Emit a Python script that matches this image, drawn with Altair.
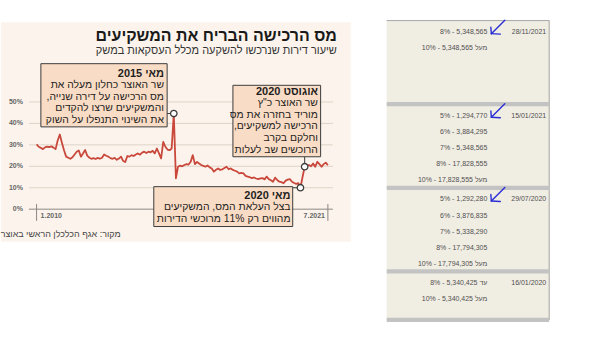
import altair as alt
import pandas as pd

# ---------------- data ----------------
# share of apartments bought for investment (%), monthly from 1.2010 to 7.2021
share_pct = [
    30.2, 29.1, 28.6, 28.0, 28.8, 29.2, 28.9, 29.3, 28.7, 28.0,
    32.0, 34.8, 31.0, 27.5, 24.5, 24.0, 23.5, 24.2, 25.5, 26.8,
    27.4, 24.5, 26.0, 27.6, 25.0, 24.0, 23.5, 23.8, 23.4, 23.9,
    23.5, 24.0, 25.5, 24.9, 24.5, 23.8, 23.5, 23.9, 23.0, 23.6,
    24.5, 22.5, 22.0, 24.8, 24.5, 25.2, 24.8, 25.5, 26.0, 25.4,
    26.4, 26.8, 26.2, 26.8, 26.5, 27.2, 26.0, 28.3, 26.0, 23.7,
    31.4, 29.1, 27.8, 27.5, 28.3, 44.6, 14.4, 19.8, 20.3, 20.0,
    20.6, 21.0, 20.8, 22.1, 25.2, 21.0, 22.0, 21.3, 20.6, 20.2,
    19.8, 20.4, 19.5, 19.0, 17.5, 18.4, 19.0, 18.3, 18.6, 19.2,
    19.8, 18.6, 19.0, 18.3, 17.9, 17.5, 16.7, 16.9, 16.7, 15.5,
    15.2, 14.9, 14.5, 14.8, 14.3, 14.0, 14.4, 14.5, 13.9, 15.2,
    14.0, 13.5, 12.8, 14.7, 13.6, 12.8, 12.6, 12.1, 13.3, 13.8,
    14.0, 12.8, 12.2, 11.8, 12.1, 10.0, 15.0, 19.8, 20.2, 20.6,
    20.0, 21.3, 19.8, 22.1, 21.0, 19.8, 21.0, 21.7, 20.5,
]
x_tick_labels = ["1.2010", "7.2021"]
y_ticks = [0, 10, 20, 30, 40, 50]
y_tick_labels = ["0%", "10%", "20%", "30%", "40%", "50%"]
highlight_idx = [65, 127, 125]          # May 2015, Aug 2020, May 2020

title_text = "מס הרכישה הבריח את המשקיעים"
subtitle_text = "שיעור דירות שנרכשו להשקעה מכלל העסקאות במשק"
source_text = "מקור: אגף הכלכלן הראשי באוצר"
ann_heads = ["מאי 2015", "אוגוסט 2020", "מאי 2020"]
ann_bodies = [
    ["שר האוצר כחלון מעלה את", "מס הרכישה על דירה שנייה,", "והמשקיעים שרצו להקדים", "את השינוי התנפלו על השוק"],
    ["שר האוצר כ\"ץ", "מוריד בחזרה את מס", "הרכישה למשקיעים,", "וחלקם בקרב", "הרוכשים שב לעלות"],
    ["בצל העלאת המס, המשקיעים", "מהווים רק 11% מרוכשי הדירות"],
]

table_dates = ["28/11/2021", "15/01/2021", "29/07/2020", "16/01/2020"]
table_rows = [
    ["8% - 5,348,565", "10% - 5,348,565 מעל"],
    ["5% - 1,294,770", "6% - 3,884,295", "7% - 5,348,565", "8% - 17,828,555", "10% - 17,828,555 מעל"],
    ["5% - 1,292,280", "6% - 3,876,835", "7% - 5,338,290", "8% - 17,794,305", "10% - 17,794,305 מעל"],
    ["8% - 5,340,425 עד", "10% - 5,340,425 מעל"],
]
section_slots = [5, 5, 5, 3]
marked_sections = [0, 1, 2]

# ---------------- layout / style ----------------
W_L, W_R, H = 386, 210, 349
X0, PPM = 35.7, 2.118          # px of first month, px per month
Y0, PPP = 209.3, 2.152         # px of 0%, px per percent
FONT = "Liberation Sans"
RED, BG_L, BOX, DARK = "#c9483b", "#fcf4ec", "#f9dcc5", "#3c3c3c"
GRID, AXIS, TXT = "#ddd3c8", "#8c8782", "#1e1e1e"
BG_R, BAR, BORDER, TBL_TXT, BLUE = "#f0ede3", "#c3c3c3", "#a8a8a8", "#505050", "#2a2fd6"

RLM, LRM = "\u200f", "\u200e"
def rtl(s):
    return RLM + s + RLM

def ltr(s):
    return LRM + s + LRM

xs = alt.Scale(domain=[-X0 / PPM, (W_L - X0) / PPM], nice=False, zero=False)
ys = alt.Scale(domain=[-(H - Y0) / PPP, Y0 / PPP], nice=False, zero=False)

def X(f="t"):
    return alt.X(f"{f}:Q", scale=xs, axis=None)

def Y(f="v"):
    return alt.Y(f"{f}:Q", scale=ys, axis=None)

one = pd.DataFrame({"k": [0]})
series = pd.DataFrame({"t": list(range(len(share_pct))), "v": share_pct})
pts = series[series["t"].isin(highlight_idx)]
ticks = pd.DataFrame({"v": y_ticks, "lab": y_tick_labels})
xt = pd.DataFrame({"t": [0, len(share_pct) - 1], "lab": x_tick_labels})

layers = []
layers.append(alt.Chart(one).mark_rect(color=BG_L).encode(
    x=alt.value(0), x2=alt.value(351), y=alt.value(21.7), y2=alt.value(242)))
layers.append(alt.Chart(ticks).transform_filter("datum.v > 0").mark_rule(color=GRID, strokeWidth=1).encode(
    y=Y(), x=alt.value(28), x2=alt.value(333)))
layers.append(alt.Chart(ticks).transform_filter("datum.v == 0").mark_rule(color=AXIS, strokeWidth=1).encode(
    y=Y(), x=alt.value(28), x2=alt.value(333)))
layers.append(alt.Chart(ticks).mark_text(align="right", baseline="middle", font=FONT, fontSize=7,
                                         fontWeight="bold", color="#666").encode(
    y=Y(), x=alt.value(22), text="lab:N"))
layers.append(alt.Chart(xt).mark_rule(color=AXIS, strokeWidth=1).encode(
    x=X(), y=alt.value(204), y2=alt.value(221)))
layers.append(alt.Chart(xt).transform_filter("datum.t == 0").mark_text(
    align="left", dx=4, baseline="middle", font=FONT, fontSize=7, fontWeight="bold", color="#666").encode(
    x=X(), y=alt.value(216.5), text="lab:N"))
layers.append(alt.Chart(xt).transform_filter("datum.t > 0").mark_text(
    align="right", dx=-3, baseline="middle", font=FONT, fontSize=7, fontWeight="bold", color="#666").encode(
    x=X(), y=alt.value(216.5), text="lab:N"))
layers.append(alt.Chart(series).mark_line(color=RED, strokeWidth=1.8, strokeJoin="round").encode(x=X(), y=Y()))

# connectors
layers.append(alt.Chart(pts).transform_filter(f"datum.t == {highlight_idx[0]}").mark_rule(color=DARK).encode(
    x=X(), x2=alt.value(166.7), y=Y()))
layers.append(alt.Chart(pts).transform_filter(f"datum.t == {highlight_idx[1]}").mark_rule(color=DARK).encode(
    x=X(), y=Y(), y2=alt.value(156.7)))
layers.append(alt.Chart(pts).transform_filter(f"datum.t == {highlight_idx[2]}").mark_rule(color=DARK).encode(
    x=X(), x2=alt.value(292.7), y=Y()))

# annotation boxes: (x1, x2, y1, y2, text right edge, heading y, body top y)
box_layout = [
    (40.0, 166.7, 63.3, 126.7, 163.5, 73.3, 79.6),
    (232.7, 320.7, 85.0, 156.7, 318.0, 91.7, 97.9),
    (153.3, 292.7, 186.7, 226.7, 290.5, 196.0, 202.3),
]
for (x1, x2, y1, y2, xr, yh, yb), head, body in zip(box_layout, ann_heads, ann_bodies):
    layers.append(alt.Chart(one).mark_rect(fill=BOX, stroke=DARK, strokeWidth=1).encode(
        x=alt.value(x1), x2=alt.value(x2), y=alt.value(y1), y2=alt.value(y2)))
    layers.append(alt.Chart(one).mark_text(text=rtl(head), align="right", baseline="middle", font=FONT,
                                           fontSize=11, fontWeight="bold", color=TXT).encode(
        x=alt.value(xr), y=alt.value(yh)))
    layers.append(alt.Chart(one).mark_text(text="\n".join(rtl(s) for s in body), lineBreak="\n",
                                           lineHeight=11.67, align="right", baseline="top", font=FONT,
                                           fontSize=10.4, color=TXT).encode(
        x=alt.value(xr), y=alt.value(yb)))

layers.append(alt.Chart(pts).mark_point(shape="circle", filled=True, fill="white", stroke=DARK,
                                        strokeWidth=1.3, size=42, opacity=1).encode(x=X(), y=Y()))

layers.append(alt.Chart(one).mark_text(text=rtl(title_text), align="right", baseline="alphabetic",
                                       font=FONT, fontSize=16, fontWeight="bold", color="#1a1a1a").encode(
    x=alt.value(337), y=alt.value(40.5)))
layers.append(alt.Chart(one).mark_text(text=rtl(subtitle_text), align="right", baseline="alphabetic",
                                       font=FONT, fontSize=11, color="#333").encode(
    x=alt.value(337), y=alt.value(54)))
layers.append(alt.Chart(one).mark_text(text=rtl(source_text), align="right", baseline="middle",
                                       font=FONT, fontSize=9, color="#444").encode(
    x=alt.value(120), y=alt.value(234.5)))

left = alt.layer(*layers).properties(width=W_L, height=H)

# ---------------- right panel: rates table ----------------
SLOT0, PITCH, SEC = 31.7, 16.2, 5.18
ry = alt.Scale(domain=[-SLOT0 / PITCH, (H - SLOT0) / PITCH], reverse=True, nice=False, zero=False)

def RY(f="slot"):
    return alt.Y(f"{f}:Q", scale=ry, axis=None)

rows, dates = [], []
for k, (d, entries) in enumerate(zip(table_dates, table_rows)):
    dates.append({"slot": k * SEC, "date": d})
    for i, e in enumerate(entries):
        rows.append({"slot": k * SEC + i, "entry": ltr(e)})
rows = pd.DataFrame(rows)
dates = pd.DataFrame(dates)
bounds = pd.DataFrame({"b": [k * SEC - 0.72 for k in range(1, len(section_slots))]
                       + [(len(section_slots) - 1) * SEC + section_slots[-1] - 0.72]})
frame = pd.DataFrame({"top": [-0.72], "bot": [bounds["b"].max()]})
arrows = pd.DataFrame({"slot": [k * SEC for k in marked_sections]})

r = []
r.append(alt.Chart(frame).mark_rect(color=BG_R).encode(
    x=alt.value(0), x2=alt.value(164), y=RY("top"), y2="bot:Q"))
r.append(alt.Chart(frame).mark_rule(color=BORDER, strokeWidth=1).encode(
    x=alt.value(0), x2=alt.value(163), y=RY("top")))
r.append(alt.Chart(frame).mark_rule(color=BORDER, strokeWidth=1).encode(
    x=alt.value(163), y=RY("top"), y2="bot:Q"))
r.append(alt.Chart(bounds).transform_calculate(lo="datum.b - 0.13", hi="datum.b + 0.13").mark_rect(
    color=BAR).encode(x=alt.value(0), x2=alt.value(163), y=RY("lo"), y2="hi:Q"))
r.append(alt.Chart(rows).mark_text(align="right", baseline="middle", font=FONT, fontSize=7,
                                   color=TBL_TXT).encode(x=alt.value(101), y=RY(), text="entry:N"))
r.append(alt.Chart(dates).mark_text(align="right", baseline="middle", font=FONT, fontSize=7,
                                    color=TBL_TXT).encode(x=alt.value(160), y=RY(), text="date:N"))
# hand-drawn blue arrows: (x1, dy1, x2, dy2)
for x1, d1, x2, d2 in [(118.5, -12, 105, 1.5), (105, 1.5, 104.5, -5), (105, 1.5, 114, 2)]:
    r.append(alt.Chart(arrows).mark_rule(color=BLUE, strokeWidth=1.4, strokeCap="round",
                                         yOffset=d1, y2Offset=d2).encode(
        x=alt.value(x1), x2=alt.value(x2), y=RY(), y2="slot:Q"))

right = alt.layer(*r).properties(width=W_R, height=H)

chart = alt.hconcat(left, right, spacing=0).properties(
    padding=0, background="white").configure_view(stroke=None)

chart.save("out.html", embed_options={"renderer": "svg", "actions": False})
